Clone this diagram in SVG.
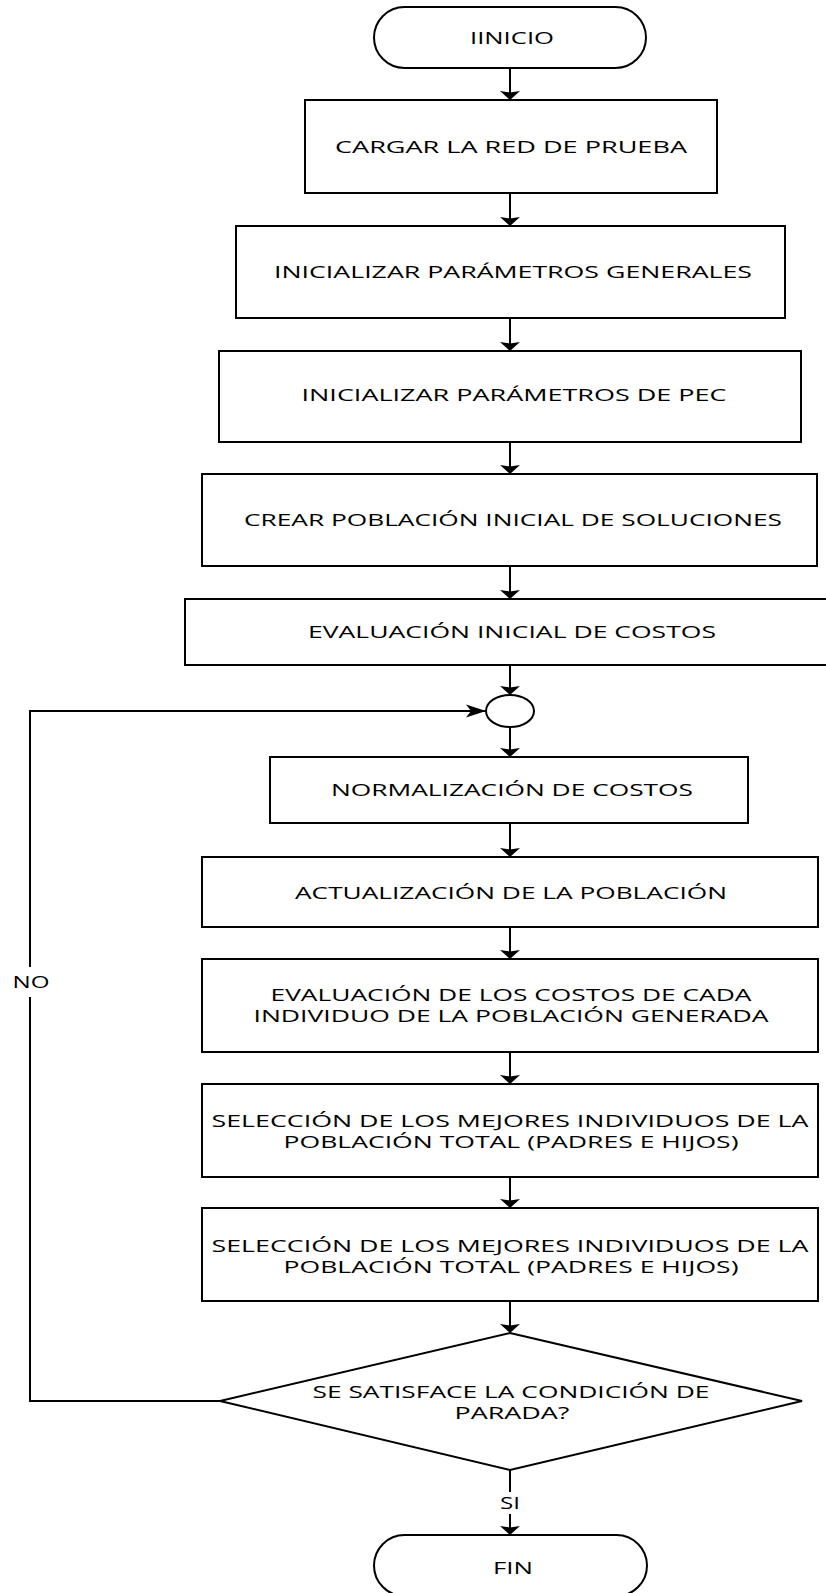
<svg xmlns="http://www.w3.org/2000/svg" width="826" height="1593" viewBox="0 0 826 1593">
  <style>
    .shape { fill: #ffffff; stroke: #000000; stroke-width: 2; }
    .wire { fill: none; stroke: #000000; stroke-width: 2; }
    .lbl { font-family: "Open Sans", "Liberation Sans", sans-serif; font-size: 16.5px; fill: #000000; text-anchor: middle; }
  </style>
  <defs>
    <marker id="arrowDown" markerUnits="userSpaceOnUse" markerWidth="12" markerHeight="22" viewBox="0 -11 10 22" refX="9" refY="0" orient="auto" overflow="visible">
      <path d="M0,-10 L9,0 L0,10 L1.5,0 z" fill="#000000"/>
    </marker>
    <marker id="arrowSide" markerUnits="userSpaceOnUse" markerWidth="22" markerHeight="14" viewBox="0 -7 20 14" refX="20" refY="0" orient="auto" overflow="visible">
      <path d="M0,-6.5 L20,0 L0,6.5 L5,0 z" fill="#000000"/>
    </marker>
  </defs>
  <rect width="826" height="1593" fill="#ffffff"/>

  <!-- connectors -->
  <g id="connectors">
    <path class="wire" d="M510,68 V100" marker-end="url(#arrowDown)"/>
    <path class="wire" d="M510,193 V226" marker-end="url(#arrowDown)"/>
    <path class="wire" d="M510,318 V351" marker-end="url(#arrowDown)"/>
    <path class="wire" d="M510,442 V474" marker-end="url(#arrowDown)"/>
    <path class="wire" d="M510,566 V599" marker-end="url(#arrowDown)"/>
    <path class="wire" d="M510,665 V695" marker-end="url(#arrowDown)"/>
    <path class="wire" d="M510,727 V757" marker-end="url(#arrowDown)"/>
    <path class="wire" d="M510,823 V857" marker-end="url(#arrowDown)"/>
    <path class="wire" d="M510,927 V959" marker-end="url(#arrowDown)"/>
    <path class="wire" d="M510,1052 V1084" marker-end="url(#arrowDown)"/>
    <path class="wire" d="M510,1177 V1208" marker-end="url(#arrowDown)"/>
    <path class="wire" d="M510,1301 V1333" marker-end="url(#arrowDown)"/>
    <!-- SI branch -->
    <path class="wire" d="M510,1470 V1492"/>
    <path class="wire" d="M510,1514 V1535" marker-end="url(#arrowDown)"/>
    <text class="lbl" x="510" y="1509" textLength="20" lengthAdjust="spacingAndGlyphs">SI</text>
    <!-- NO loop back to the junction -->
    <path class="wire" d="M220,1401 H30 V997"/>
    <path class="wire" d="M30,967 V711 H486" marker-end="url(#arrowSide)"/>
    <text class="lbl" x="31" y="988" textLength="37" lengthAdjust="spacingAndGlyphs">NO</text>
  </g>

  <g id="inicio">
    <rect class="shape" x="374" y="7" width="272" height="61" rx="30.5" ry="30.5"/>
    <text class="lbl" x="512" y="44" textLength="84" lengthAdjust="spacingAndGlyphs">IINICIO</text>
  </g>

  <g id="cargar-red">
    <rect class="shape" x="305" y="100" width="412" height="93"/>
    <text class="lbl" x="511" y="153" textLength="352" lengthAdjust="spacingAndGlyphs">CARGAR LA RED DE PRUEBA</text>
  </g>

  <g id="param-generales">
    <rect class="shape" x="236" y="226" width="549" height="92"/>
    <text class="lbl" x="513" y="278" textLength="478" lengthAdjust="spacingAndGlyphs">INICIALIZAR PARÁMETROS GENERALES</text>
  </g>

  <g id="param-pec">
    <rect class="shape" x="219" y="351" width="582" height="91"/>
    <text class="lbl" x="514" y="401" textLength="425" lengthAdjust="spacingAndGlyphs">INICIALIZAR PARÁMETROS DE PEC</text>
  </g>

  <g id="poblacion-inicial">
    <rect class="shape" x="202" y="474" width="615" height="92"/>
    <text class="lbl" x="513" y="526" textLength="538" lengthAdjust="spacingAndGlyphs">CREAR POBLACIÓN INICIAL DE SOLUCIONES</text>
  </g>

  <g id="evaluacion-inicial">
    <rect class="shape" x="185" y="599" width="650" height="66"/>
    <text class="lbl" x="512" y="638" textLength="408" lengthAdjust="spacingAndGlyphs">EVALUACIÓN INICIAL DE COSTOS</text>
  </g>

  <g id="junction">
    <ellipse class="shape" cx="510" cy="711" rx="24" ry="16"/>
  </g>

  <g id="normalizacion">
    <rect class="shape" x="270" y="757" width="478" height="66"/>
    <text class="lbl" x="512" y="796" textLength="362" lengthAdjust="spacingAndGlyphs">NORMALIZACIÓN DE COSTOS</text>
  </g>

  <g id="actualizacion">
    <rect class="shape" x="202" y="857" width="616" height="70"/>
    <text class="lbl" x="511" y="899" textLength="432" lengthAdjust="spacingAndGlyphs">ACTUALIZACIÓN DE LA POBLACIÓN</text>
  </g>

  <g id="evaluacion-individuos">
    <rect class="shape" x="202" y="959" width="616" height="93"/>
    <text class="lbl" x="511" y="1001" textLength="481" lengthAdjust="spacingAndGlyphs">EVALUACIÓN DE LOS COSTOS DE CADA</text>
    <text class="lbl" x="511" y="1022" textLength="515" lengthAdjust="spacingAndGlyphs">INDIVIDUO DE LA POBLACIÓN GENERADA</text>
  </g>

  <g id="seleccion-1">
    <rect class="shape" x="202" y="1084" width="616" height="93"/>
    <text class="lbl" x="510" y="1127" textLength="597" lengthAdjust="spacingAndGlyphs">SELECCIÓN  DE LOS MEJORES INDIVIDUOS DE LA</text>
    <text class="lbl" x="511" y="1148" textLength="455" lengthAdjust="spacingAndGlyphs">POBLACIÓN TOTAL (PADRES E HIJOS)</text>
  </g>

  <g id="seleccion-2">
    <rect class="shape" x="202" y="1208" width="616" height="93"/>
    <text class="lbl" x="510" y="1252" textLength="597" lengthAdjust="spacingAndGlyphs">SELECCIÓN  DE LOS MEJORES INDIVIDUOS DE LA</text>
    <text class="lbl" x="511" y="1273" textLength="455" lengthAdjust="spacingAndGlyphs">POBLACIÓN TOTAL (PADRES E HIJOS)</text>
  </g>

  <g id="condicion-parada">
    <polygon class="shape" points="510,1333 802,1401 510,1470 220,1401"/>
    <text class="lbl" x="511" y="1398" textLength="397" lengthAdjust="spacingAndGlyphs">SE SATISFACE LA CONDICIÓN DE</text>
    <text class="lbl" x="512" y="1419" textLength="115" lengthAdjust="spacingAndGlyphs">PARADA?</text>
  </g>

  <g id="fin">
    <rect class="shape" x="374" y="1535" width="273" height="61" rx="30.5" ry="30.5"/>
    <text class="lbl" x="513" y="1574" textLength="40" lengthAdjust="spacingAndGlyphs">FIN</text>
  </g>
</svg>
